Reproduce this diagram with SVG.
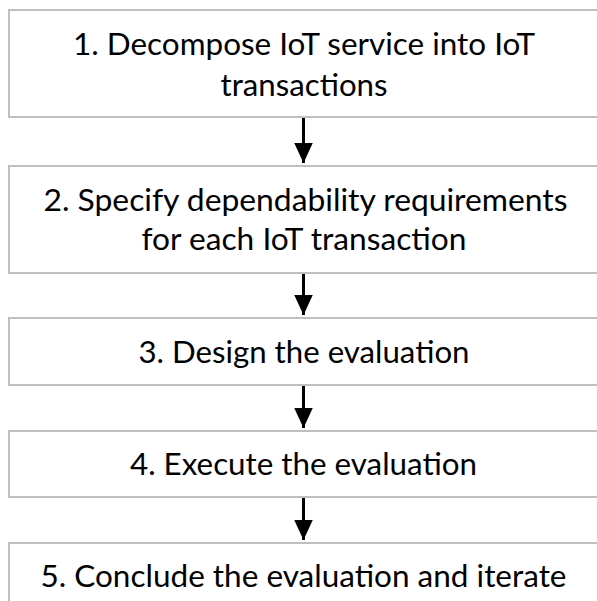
<svg xmlns="http://www.w3.org/2000/svg" width="597" height="601" viewBox="0 0 597 601">
  <defs>
    <style>
      .box { fill: #FFFFFF; stroke: #BFBFBF; stroke-width: 2; }
      .label { font-family: Lato, "Open Sans", "Liberation Sans", sans-serif; font-size: 30px; fill: #000000; text-anchor: middle; }
      .flow { stroke: #000000; stroke-width: 3; fill: none; }
    </style>
    <!-- triangle drawn along +x, rotated to the line direction -->
    <marker id="arrowhead" markerUnits="userSpaceOnUse" markerWidth="21" markerHeight="20" viewBox="0 0 21 20" refX="20.5" refY="10" orient="auto">
      <polygon points="0,0.5 20.5,10 0,19.5" fill="#000000"/>
    </marker>
  </defs>
  <rect width="597" height="601" fill="#FFFFFF"/>

  <g id="step1">
    <rect class="box" x="9" y="10" width="591" height="107"/>
    <text class="label" x="304" y="55" textLength="462" lengthAdjust="spacingAndGlyphs">1. Decompose IoT service into IoT</text>
    <text class="label" x="304" y="96" textLength="167" lengthAdjust="spacingAndGlyphs">transactions</text>
  </g>

  <g id="step2">
    <rect class="box" x="9" y="166" width="591" height="107"/>
    <text class="label" x="305.5" y="211" textLength="524" lengthAdjust="spacingAndGlyphs">2. Specify dependability requirements</text>
    <text class="label" x="304" y="250" textLength="325" lengthAdjust="spacingAndGlyphs">for each IoT transaction</text>
  </g>

  <g id="step3">
    <rect class="box" x="9" y="318" width="591" height="67"/>
    <text class="label" x="304" y="363" textLength="331" lengthAdjust="spacingAndGlyphs">3. Design the evaluation</text>
  </g>

  <g id="step4">
    <rect class="box" x="9" y="431" width="591" height="66"/>
    <text class="label" x="303.5" y="475" textLength="347" lengthAdjust="spacingAndGlyphs">4. Execute the evaluation</text>
  </g>

  <g id="step5">
    <rect class="box" x="9" y="543" width="591" height="107"/>
    <text class="label" x="303.5" y="587" textLength="526" lengthAdjust="spacingAndGlyphs">5. Conclude the evaluation and iterate</text>
  </g>

  <g id="connectors">
    <line class="flow" x1="303.5" y1="118" x2="303.5" y2="163" marker-end="url(#arrowhead)"/>
    <line class="flow" x1="303.5" y1="274" x2="303.5" y2="315" marker-end="url(#arrowhead)"/>
    <line class="flow" x1="303.5" y1="386" x2="303.5" y2="428" marker-end="url(#arrowhead)"/>
    <line class="flow" x1="303.5" y1="498" x2="303.5" y2="540" marker-end="url(#arrowhead)"/>
  </g>
</svg>
